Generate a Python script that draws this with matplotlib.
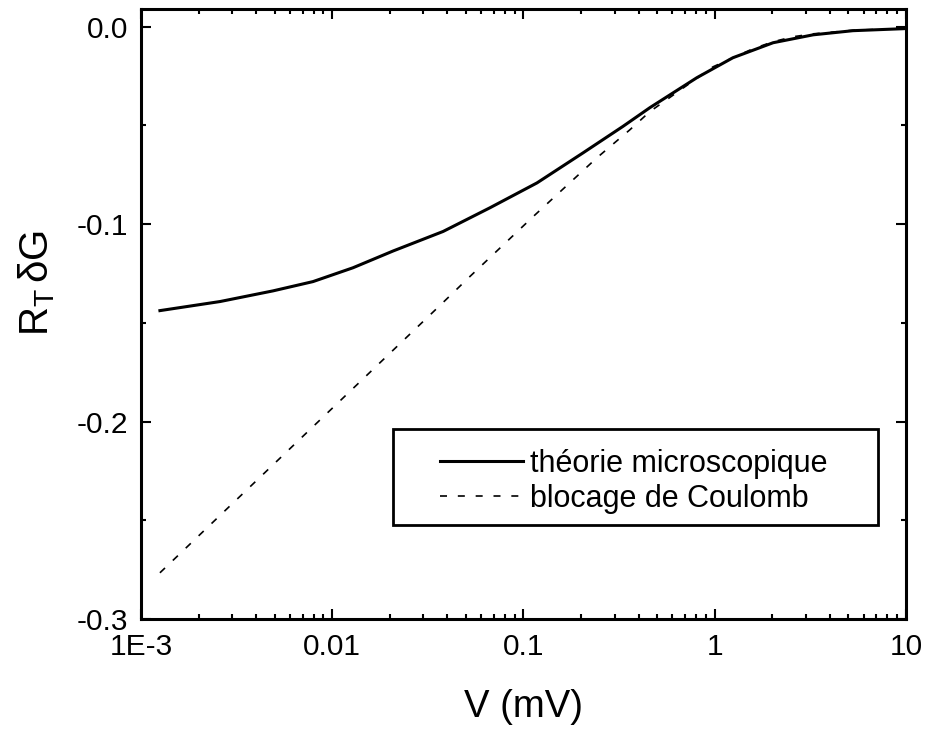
import numpy as np
import matplotlib
matplotlib.use('Agg')
import matplotlib.pyplot as plt
from matplotlib.patches import Rectangle
from matplotlib.ticker import FixedLocator, LogLocator, MultipleLocator, NullFormatter

plt.rcParams['font.family'] = ['Liberation Sans', 'DejaVu Sans']
plt.rcParams['mathtext.fontset'] = 'custom'
plt.rcParams['mathtext.rm'] = 'Liberation Sans'
plt.rcParams['mathtext.it'] = 'Liberation Sans:italic'
plt.rcParams['axes.unicode_minus'] = False

# theorie microscopique (solid)
v_micro = [0.001256, 0.00259, 0.0049, 0.00793, 0.01283, 0.0208, 0.038, 0.0668,
           0.1177, 0.2048, 0.331, 0.458, 0.807, 1.245, 2.02, 3.27, 5.28, 9.64, 10.0]
g_micro = [-0.1438, -0.1392, -0.1338, -0.1291, -0.1221, -0.1136, -0.1037, -0.0917,
           -0.0791, -0.0639, -0.0505, -0.0410, -0.0258, -0.0157, -0.0081, -0.0041,
           -0.0020, -0.0010, -0.0009]

# blocage de Coulomb (dashed)
v_cb = [0.001256, 0.0373, 0.0525, 0.112, 0.242, 0.360, 0.458, 0.98, 1.58, 2.02,
        2.56, 3.27, 5.28, 10.0]
g_cb = [-0.2766, -0.1404, -0.1265, -0.0963, -0.0664, -0.0522, -0.0430, -0.0203,
        -0.0112, -0.0076, -0.0051, -0.0036, -0.0018, -0.0008]

xticks = [1e-3, 0.01, 0.1, 1, 10]
xticklabels = ['1E-3', '0.01', '0.1', '1', '10']
yticks = [0.0, -0.1, -0.2, -0.3]
yticklabels = ['0.0', '-0.1', '-0.2', '-0.3']

fig = plt.figure(figsize=(9.27, 7.29), dpi=100)
ax = fig.add_axes([0.1521, 0.1509, 0.8252, 0.8368])

ax.plot(v_micro, g_micro, '-', color='black', lw=2.2, label='théorie microscopique')
ax.plot(v_cb, g_cb, color='black', lw=1.2, linestyle=(0, (4.2, 6.5)),
        label='blocage de Coulomb')

ax.set_xscale('log')
ax.set_xlim(1e-3, 10)
ax.set_ylim(-0.3, 0.009)

ax.xaxis.set_major_locator(FixedLocator(xticks))
ax.set_xticklabels(xticklabels)
ax.xaxis.set_minor_locator(LogLocator(base=10, subs=np.arange(2, 10)))
ax.xaxis.set_minor_formatter(NullFormatter())
ax.set_yticks(yticks)
ax.set_yticklabels(yticklabels)
ax.yaxis.set_minor_locator(MultipleLocator(0.05))

ax.tick_params(which='both', direction='in', top=True, right=True, width=1.5,
               labelsize=21.5)
ax.tick_params(which='major', length=7)
ax.tick_params(which='minor', length=3.5)
ax.tick_params(axis='x', which='major', pad=10)
ax.tick_params(axis='y', which='major', pad=9)

for sp in ax.spines.values():
    sp.set_linewidth(2.2)

ax.set_xlabel('V (mV)', fontsize=27.5, labelpad=20)
ax.set_ylabel(r'$\mathrm{R_{T}\,\delta G}$', fontsize=29)
ax.yaxis.set_label_coords(-0.11, 0.551)

# legend frame drawn separately so the padding matches the original
ax.add_patch(Rectangle((0.329, 0.154), 0.634, 0.157, transform=ax.transAxes,
                       fill=True, facecolor='white', edgecolor='black',
                       lw=2.0, zorder=4))
leg = ax.legend(loc='upper left', bbox_to_anchor=(0.391, 0.2785), fontsize=22,
                frameon=False, handlelength=2.7, handletextpad=0.25,
                borderpad=0, labelspacing=0.15, borderaxespad=0)
leg.set_zorder(5)

fig.savefig('out.png', dpi=100)
